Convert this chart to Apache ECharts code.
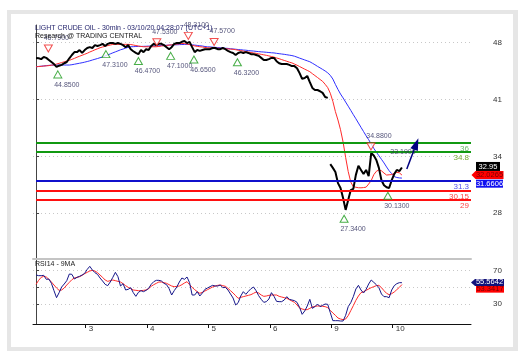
<!DOCTYPE html>
<html><head><meta charset="utf-8">
<script src="https://cdn.jsdelivr.net/npm/echarts@6/dist/echarts.min.js"></script>
<style>html,body{margin:0;padding:0;background:#fff}#c{width:526px;height:360px}</style>
</head><body><div id="c"></div>
<script>
// ---------- data ----------
const dayTickSlots = [19.4, 43.4, 67.4, 91.4, 115.4, 139.4];
const dayTickLabels = ['3', '4', '5', '6', '9', '10'];
const priceTickValues = [27.4, 34.3, 41.2, 48.1];
const priceTickLabels = ['28', '34', '41', '48'];
const rsiTickValues = [30, 50, 70];
const rsiTickLabels = ['30', '', '70'];

// 1-hour sampled closes (slot index = position in array), Mar 2 .. Mar 6
const priceBeforeGap = [
46.23,46.2,46.1,46.35,46.25,46.0,45.75,45.5,45.15,45.3,
45.4,45.6,45.75,46.2,46.6,46.95,46.95,47.2,46.85,47.2,
47.45,47.55,47.45,47.8,47.7,47.8,47.95,47.7,47.95,48.05,
48.05,47.95,48.05,47.95,47.8,47.55,47.8,47.3,47.05,46.85,
46.7,47.2,46.95,47.3,47.2,47.7,47.95,47.8,47.95,47.95,
47.8,47.55,47.3,47.55,47.95,48.05,48.05,48.2,48.3,48.05,
48.2,47.55,46.95,47.2,47.1,47.2,47.3,47.3,47.3,47.45,
47.45,47.3,47.3,47.45,47.3,47.1,46.95,46.85,46.6,46.85,
46.95,46.85,46.95,46.85,46.7,46.7,46.6,46.5,46.25,46.0,
46.0,46.1,46.25,46.25,45.85,45.6,45.5,45.5,45.5,45.4,
45.25,45.25,45.0,44.4,43.7,43.8,44.05,43.3,42.6,42.35,
42.35,42.2,42.0,41.5,41.4];
// Mar 9 .. Mar 10 (after the weekend gap)
const priceAfterGap = [
33.35,32.9,32.4,31.05,30.45,29.25,27.8,29.0,30.2,30.35,
32.05,33.15,32.65,32.15,32.65,31.9,34.7,34.4,33.85,32.9,
31.4,30.8,30.55,30.45,31.4,32.15,32.65,32.5,32.95];

const maFast = [
45.17,45.20,45.22,45.26,45.28,45.31,45.36,45.41,45.50,45.59,
45.68,45.77,45.87,45.95,46.07,46.19,46.33,46.45,46.57,46.69,
46.81,46.96,47.09,47.23,47.35,47.48,47.57,47.65,47.74,47.81,
47.88,47.89,47.89,47.89,47.89,47.89,47.89,47.87,47.81,47.75,
47.69,47.64,47.60,47.60,47.60,47.60,47.60,47.60,47.64,47.69,
47.72,47.76,47.80,47.83,47.88,47.92,47.95,47.99,47.99,47.93,
47.86,47.77,47.70,47.65,47.60,47.57,47.52,47.47,47.46,47.44,
47.43,47.42,47.41,47.38,47.36,47.34,47.31,47.29,47.24,47.18,
47.13,47.07,47.01,46.96,46.90,46.85,46.80,46.74,46.68,46.62,
46.56,46.49,46.42,46.34,46.24,46.15,46.04,45.94,45.84,45.73,
45.64,45.50,45.36,45.20,45.04,44.88,44.73,44.57,44.33,44.10,
43.87,43.63,43.40,43.04,42.64,41.96,40.98,39.73,38.71,37.53,
36.04,34.17,32.46,31.18,30.61,30.55,30.49,30.48,30.51,30.56,
30.94,31.36,32.07,32.48,32.66,32.54,32.27,32.03,32.06,32.09,
32.23,32.36,32.30,32.0265];

const maSlow = [
45.17,45.21,45.24,45.27,45.31,45.34,45.37,45.38,45.38,45.38,
45.38,45.38,45.38,45.38,45.42,45.48,45.54,45.60,45.66,45.73,
45.81,45.89,45.99,46.08,46.17,46.27,46.36,46.49,46.61,46.73,
46.86,46.98,47.10,47.23,47.32,47.43,47.53,47.60,47.61,47.63,
47.64,47.64,47.65,47.66,47.68,47.68,47.69,47.71,47.72,47.75,
47.76,47.78,47.80,47.82,47.83,47.84,47.86,47.87,47.88,47.89,
47.87,47.83,47.80,47.76,47.72,47.69,47.63,47.59,47.58,47.55,
47.53,47.50,47.48,47.44,47.42,47.40,47.36,47.33,47.30,47.26,
47.24,47.20,47.18,47.14,47.10,47.08,47.04,47.01,46.98,46.96,
46.93,46.90,46.87,46.85,46.80,46.76,46.72,46.68,46.63,46.58,
46.53,46.45,46.34,46.22,46.11,46.00,45.89,45.78,45.60,45.42,
45.22,45.04,44.85,44.66,44.43,44.13,43.68,43.03,42.42,41.86,
41.39,40.89,40.39,39.88,39.36,38.86,38.34,37.82,37.31,36.79,
36.32,35.79,35.27,34.81,34.37,33.94,33.50,33.01,32.55,32.20,
31.84,31.73,31.68,31.6606];

const rsi = [
64.8,64.0,64.0,64.4,59.6,60.0,54.8,46.0,37.6,43.6,
50.4,54.0,58.0,66.0,65.6,60.0,62.0,63.2,64.8,66.8,
71.6,75.2,70.8,67.6,65.6,61.2,57.6,53.6,52.0,56.4,
62.0,68.0,62.8,51.6,54.4,46.8,47.6,49.6,43.6,39.2,
44.0,46.0,44.8,46.4,48.8,53.6,56.8,58.4,58.4,57.6,
54.8,53.2,48.4,40.8,46.0,50.4,56.4,61.2,59.6,62.4,
55.6,40.8,40.8,44.8,39.6,43.2,47.6,49.2,50.8,52.4,
51.6,51.6,52.8,49.6,50.0,46.8,42.0,37.2,28.8,31.6,
39.6,44.8,41.6,45.2,48.4,50.4,46.0,40.0,35.6,32.0,
32.8,36.0,43.6,39.2,33.2,32.8,32.8,34.8,38.8,35.6,
34.8,34.0,32.0,26.0,17.6,21.6,27.6,35.6,24.8,26.8,
30.0,26.8,28.4,30.0,29.6,19.6,10.0,10.0,10.0,9.6,
9.6,16.4,26.8,31.6,38.8,48.0,52.4,46.8,43.2,47.6,
54.0,58.8,56.0,53.2,49.6,42.0,38.8,38.8,37.6,46.8,
52.0,54.4,55.6,55.5642];

const rsiMa = [
53.6,58.4,62.0,63.2,62.4,59.6,56.4,52.8,49.2,46.4,
46.8,49.2,52.8,56.0,59.2,61.2,62.0,62.8,64.4,66.4,
68.0,69.6,70.4,69.6,67.6,64.8,62.0,58.8,57.2,58.0,
58.8,58.0,57.2,56.4,54.4,52.0,50.0,48.4,46.8,46.4,
46.0,46.0,46.4,46.8,48.4,51.2,53.2,54.8,56.4,56.4,
55.6,54.8,53.2,51.6,50.8,51.2,51.6,53.2,55.2,56.8,
53.2,50.0,47.2,44.8,42.8,44.0,45.6,47.2,48.8,50.4,
51.6,52.4,52.8,52.0,51.2,48.8,46.0,43.2,40.0,36.8,
38.0,38.8,39.6,40.4,41.2,42.8,44.4,43.2,40.8,39.2,
39.6,40.4,40.8,40.8,40.8,39.2,38.4,37.6,36.8,35.2,
33.6,32.0,28.8,25.2,24.0,23.2,23.2,24.8,26.4,27.2,
27.6,27.6,27.2,26.8,25.6,22.4,19.2,16.4,13.2,12.0,
11.2,12.0,16.0,22.0,28.0,34.4,39.6,43.6,44.8,46.4,
48.0,49.6,50.8,52.0,52.4,49.6,46.0,42.8,41.2,42.4,
44.4,47.2,50.0,53.3417];

const levelValues = [36, 34.8, 31.3, 30.15, 29];
const levelLabels = ['36', '34.8', '31.3', '30.15', '29'];

const pivotLowSlots = [8.5, 27.3, 40, 52.6, 61.7, 78.7, 120.4, 137.5];
const pivotLowValues = [44.85, 47.31, 46.47, 47.10, 46.65, 46.32, 27.34, 30.13];
const pivotHighSlots = [4.8, 47.2, 59.5, 69.6, 130.9];
const pivotHighValues = [46.79, 47.53, 48.31, 47.57, 34.88];

const projectionSlots = [144.9, 148.6];
const projectionValues = [32.76, 35.8];
const projectionTarget = { slot: 143.4, value: 34.8, text: '33.1900' };

// ---------- styles / layout ----------
const X_MIN = -1.2, X_MAX = 170;
const PRICE_MIN = 21.84, PRICE_MAX = 50.24;
const RSI_MIN = 6, RSI_MAX = 84;
const levelColors = ['#119911', '#119911', '#1010cc', '#ff1010', '#ff1010'];
const levelTextColors = ['#66bb66', '#77aa33', '#5555ee', '#ff4444', '#ff4444'];
const FONT = 'Liberation Sans, Arial, sans-serif';

function nearestLabel(vals, labels, v) {
  let best = 0;
  for (let i = 1; i < vals.length; i++) if (Math.abs(vals[i] - v) < Math.abs(vals[best] - v)) best = i;
  return labels[best];
}
const last = a => a[a.length - 1];
const gapStart = priceBeforeGap.length;

const chart = echarts.init(document.getElementById('c'));
const option = {
  animation: false,
  textStyle: { fontFamily: FONT },
  graphic: [
    { type: 'rect', z: -100, silent: true, shape: { x: 7, y: 10, width: 511, height: 341 }, style: { fill: '#e6e6e6' } },
    { type: 'rect', z: -99, silent: true, shape: { x: 11, y: 14, width: 502, height: 333 }, style: { fill: '#ffffff' } },
    { type: 'text', z: 50, left: 35, top: 25, style: { text: 'LIGHT CRUDE OIL - 30min - 03/10/20 04:28:07 (UTC+1)', fill: '#26266e', font: '7px ' + FONT } },
    { type: 'text', z: 50, left: 35, top: 33, style: { text: 'Research @ TRADING CENTRAL', fill: '#1a1a1a', font: '7px ' + FONT } },
    { type: 'text', z: 50, left: 35, top: 261, style: { text: 'RSI14 - 9MA', fill: '#222', font: '7px ' + FONT } }
  ],
  grid: [
    { left: 33, right: 55, top: 25, height: 234 },
    { left: 33, right: 55, top: 259, height: 65 }
  ],
  xAxis: [
    { type: 'value', gridIndex: 0, min: X_MIN, max: X_MAX,
      axisLine: { show: true, lineStyle: { color: '#c4c4c4', width: 2 } },
      axisTick: { show: false }, axisLabel: { show: false }, splitLine: { show: false } },
    { type: 'value', gridIndex: 1, min: X_MIN, max: X_MAX,
      axisLine: { show: true, onZero: false, lineStyle: { color: '#111', width: 1 } },
      axisTick: { show: true, length: 4, customValues: dayTickSlots, lineStyle: { color: '#111' } },
      axisLabel: { show: true, customValues: dayTickSlots, margin: 1, align: 'left', padding: [0, 0, 0, 3],
        fontSize: 8, color: '#333', formatter: v => nearestLabel(dayTickSlots, dayTickLabels, v) },
      splitLine: { show: false } }
  ],
  yAxis: [
    { type: 'value', gridIndex: 0, position: 'right', min: PRICE_MIN, max: PRICE_MAX,
      axisLine: { show: true, lineStyle: { color: '#444' } },
      axisTick: { show: true, length: 3, customValues: priceTickValues, lineStyle: { color: '#444' } },
      axisLabel: { show: true, customValues: priceTickValues, margin: 22, fontSize: 8, color: '#333',
        formatter: v => nearestLabel(priceTickValues, priceTickLabels, v) },
      splitLine: { show: true, lineStyle: { color: '#c8c8c8', type: [1, 3] } } },
    { type: 'value', gridIndex: 1, position: 'right', min: RSI_MIN, max: RSI_MAX,
      axisLine: { show: true, lineStyle: { color: '#444' } },
      axisTick: { show: true, length: 3, customValues: rsiTickValues, lineStyle: { color: '#444' } },
      axisLabel: { show: true, customValues: rsiTickValues, margin: 22, fontSize: 8, color: '#333',
        formatter: v => nearestLabel(rsiTickValues, rsiTickLabels, v) },
      splitLine: { show: true, lineStyle: { color: '#c8c8c8', type: [1, 3] } } }
  ],
  series: [
    { name: 'levels', type: 'line', xAxisIndex: 0, yAxisIndex: 0, data: [], z: 1, silent: true,
      markLine: { symbol: ['none', 'none'], silent: true, animation: false,
        data: levelValues.map((v, i) => [
          { coord: [0, v], lineStyle: { color: levelColors[i], width: 2, type: 'solid' },
            label: { show: true, position: 'insideEndBottom', distance: [2, 2], formatter: levelLabels[i],
              color: levelTextColors[i], fontSize: 8, fontFamily: FONT } },
          { coord: [X_MAX, v] }
        ]) } },
    { name: 'maSlow', type: 'line', xAxisIndex: 0, yAxisIndex: 0, showSymbol: false, z: 3,
      data: maSlow.map((v, i) => [i, v]), lineStyle: { color: '#3030ff', width: 1 },
      markPoint: { silent: true, symbol: 'rect', symbolSize: [27, 8], symbolOffset: [18.5, 5.6],
        itemStyle: { color: '#1010f0' },
        label: { show: true, position: 'inside', color: '#ffffff', fontSize: 7.5, formatter: p => p.value.toFixed(4) },
        data: [{ coord: [X_MAX, last(maSlow)], value: last(maSlow) }] } },
    { name: 'maFast', type: 'line', xAxisIndex: 0, yAxisIndex: 0, showSymbol: false, z: 3,
      data: maFast.map((v, i) => [i, v]), lineStyle: { color: '#ff2a2a', width: 1 },
      markPoint: { silent: true, symbol: 'path://M0,4L4,0L32,0L32,8L4,8Z', symbolSize: [32, 8], symbolOffset: [16.5, 0],
        itemStyle: { color: '#ff0000' },
        label: { show: true, position: 'inside', offset: [2, 0], color: '#7a0000', fontSize: 7.5, formatter: p => p.value.toFixed(4) },
        data: [{ coord: [X_MAX, last(maFast)], value: last(maFast) }] } },
    { name: 'priceA', type: 'line', xAxisIndex: 0, yAxisIndex: 0, showSymbol: false, z: 4,
      data: priceBeforeGap.map((v, i) => [i, v]), lineStyle: { color: '#000', width: 2 } },
    { name: 'priceB', type: 'line', xAxisIndex: 0, yAxisIndex: 0, showSymbol: false, z: 4,
      data: priceAfterGap.map((v, i) => [i + gapStart, v]), lineStyle: { color: '#000', width: 2 },
      markPoint: { silent: true, symbol: 'rect', symbolSize: [24, 9], symbolOffset: [17, -1],
        itemStyle: { color: '#000' },
        label: { show: true, position: 'inside', color: '#fff', fontSize: 7.5, formatter: p => String(p.value) },
        data: [{ coord: [X_MAX, last(priceAfterGap)], value: last(priceAfterGap) }] } },
    { name: 'projection', type: 'line', xAxisIndex: 0, yAxisIndex: 0, data: [], z: 6, silent: true,
      markLine: { silent: true, animation: false, symbol: ['none', 'triangle'], symbolSize: [8, 12],
        lineStyle: { color: '#000080', width: 1.5, type: 'solid' }, label: { show: false },
        data: [[{ coord: [projectionSlots[0], projectionValues[0]] }, { coord: [projectionSlots[1], projectionValues[1]] }]] } },
    { name: 'projectionLabel', type: 'scatter', xAxisIndex: 0, yAxisIndex: 0, z: 5, silent: true,
      symbol: 'rect', symbolSize: 1, itemStyle: { color: 'rgba(0,0,0,0)' },
      label: { show: true, position: 'inside', fontSize: 7, color: '#2a2a5a', formatter: projectionTarget.text },
      data: [[projectionTarget.slot, projectionTarget.value]] },
    { name: 'pivotLow', type: 'scatter', xAxisIndex: 0, yAxisIndex: 0, z: 7, silent: true,
      symbol: 'triangle', symbolSize: [8, 7], symbolOffset: [0, 5],
      itemStyle: { color: '#ffffff', borderColor: '#1a9a1a', borderWidth: 1 },
      label: { show: true, position: 'bottom', distance: 3, offset: [9, 0], fontSize: 7, color: '#2a2a5a',
        formatter: p => p.value[1].toFixed(4) },
      data: pivotLowSlots.map((s, i) => [s, pivotLowValues[i]]) },
    { name: 'pivotHigh', type: 'scatter', xAxisIndex: 0, yAxisIndex: 0, z: 7, silent: true,
      symbol: 'triangle', symbolRotate: 180, symbolSize: [8, 7], symbolOffset: [0, -5],
      itemStyle: { color: '#ffffff', borderColor: '#ee2222', borderWidth: 1 },
      label: { show: true, position: 'top', distance: 3, offset: [8, 0], fontSize: 7, color: '#2a2a5a',
        formatter: p => p.value[1].toFixed(4) },
      data: pivotHighSlots.map((s, i) => [s, pivotHighValues[i]]) },
    { name: 'rsiMa', type: 'line', xAxisIndex: 1, yAxisIndex: 1, showSymbol: false, z: 3,
      data: rsiMa.map((v, i) => [i, v]), lineStyle: { color: '#ff2a2a', width: 1 },
      markPoint: { silent: true, symbol: 'rect', symbolSize: [28, 7], symbolOffset: [19, 4.6],
        itemStyle: { color: '#ff0000' },
        label: { show: true, position: 'inside', color: '#7a0000', fontSize: 7.5, formatter: p => p.value.toFixed(4) },
        data: [{ coord: [X_MAX, last(rsiMa)], value: last(rsiMa) }] } },
    { name: 'rsi', type: 'line', xAxisIndex: 1, yAxisIndex: 1, showSymbol: false, z: 4,
      data: rsi.map((v, i) => [i, v]), lineStyle: { color: '#16168a', width: 1 },
      markPoint: { silent: true, symbol: 'path://M0,3.5L4,0L33,0L33,7L4,7Z', symbolSize: [33, 7], symbolOffset: [16.5, -0.3],
        itemStyle: { color: '#12127a' },
        label: { show: true, position: 'inside', offset: [2, 0], color: '#ffffff', fontSize: 7.5, formatter: p => p.value.toFixed(4) },
        data: [{ coord: [X_MAX, last(rsi)], value: last(rsi) }] } }
  ]
};
chart.setOption(option);
</script>
</body></html>
